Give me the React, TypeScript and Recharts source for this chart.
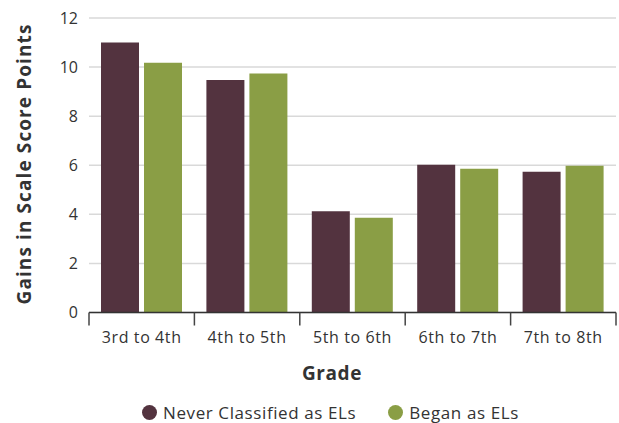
import React from "react";
import { BarChart, Bar, XAxis, YAxis, CartesianGrid, Legend, Label } from "recharts";

const grades = ["3rd to 4th", "4th to 5th", "5th to 6th", "6th to 7th", "7th to 8th"];
const neverEL = [11.0, 9.47, 4.13, 6.02, 5.74];
const beganEL = [10.18, 9.74, 3.86, 5.86, 5.98];
const yTicks = [0, 2, 4, 6, 8, 10, 12];

const MAROON = "#53333f";
const GREEN = "#8a9e45";
const FONT = "'Open Sans', sans-serif";

const W = 619;
const H = 423;
const PLOT_LEFT = 89;
const PLOT_RIGHT = 3;
const BAND = (W - PLOT_LEFT - PLOT_RIGHT) / grades.length;

const data = grades.map((g, i) => ({ grade: g, never: neverEL[i], began: beganEL[i] }));

function GradeTick(props: any) {
  const { x, y, payload, index } = props;
  const last = index === grades.length - 1;
  return (
    <g>
      <line x1={x - BAND / 2} x2={x - BAND / 2} y1={y} y2={y + 13} stroke="#444" strokeWidth={1.5} />
      {last && <line x1={x + BAND / 2} x2={x + BAND / 2} y1={y} y2={y + 13} stroke="#444" strokeWidth={1.5} />}
      <text x={x} y={y + 30} textAnchor="middle" fontSize={16} letterSpacing={0.6} fill="#333" fontFamily={FONT}>
        {payload.value}
      </text>
    </g>
  );
}

function LegendContent() {
  const items = [
    { name: "Never Classified as ELs", color: MAROON },
    { name: "Began as ELs", color: GREEN },
  ];
  return (
    <div style={{ display: "flex", paddingLeft: 142, fontFamily: FONT, fontSize: 17, letterSpacing: 0.6, color: "#333" }}>
      {items.map((it, i) => (
        <div key={it.name} style={{ display: "flex", alignItems: "center", marginRight: i === 0 ? 32 : 0 }}>
          <span style={{ width: 15, height: 15, borderRadius: "50%", background: it.color, marginRight: 6, display: "inline-block" }} />
          <span>{it.name}</span>
        </div>
      ))}
    </div>
  );
}

export default function App() {
  return (
    <div style={{ position: "absolute", left: 0, top: 0, background: "#fff" }}>
      <BarChart
        width={W}
        height={H}
        data={data}
        margin={{ top: 18, right: PLOT_RIGHT, bottom: 0, left: 0 }}
        barGap={5}
        barCategoryGap={12}
      >
        <CartesianGrid vertical={false} stroke="#d9d9d9" strokeWidth={1.5} />
        <XAxis
          dataKey="grade"
          height={88.5}
          tickLine={false}
          tickSize={0}
          tickMargin={0}
          axisLine={{ stroke: "#333", strokeWidth: 1.5 }}
          tick={<GradeTick />}
          interval={0}
        >
          <Label
            content={() => (
              <text x={332} y={380} textAnchor="middle" fontSize={19} letterSpacing={0.6} fontWeight="bold" fill="#333" fontFamily={FONT}>
                Grade
              </text>
            )}
          />
        </XAxis>
        <YAxis
          width={PLOT_LEFT}
          domain={[0, 12]}
          ticks={yTicks}
          axisLine={false}
          tickLine={false}
          tickSize={0}
          tickMargin={11}
          tick={{ fontSize: 16, fill: "#333", fontFamily: FONT }}
        >
          <Label
            content={() => (
              <text
                x={31}
                y={164}
                transform="rotate(-90 31 164)"
                textAnchor="middle"
                fontSize={19}
                letterSpacing={1.1}
                fontWeight="bold"
                fill="#333"
                fontFamily={FONT}
              >
                Gains in Scale Score Points
              </text>
            )}
          />
        </YAxis>
        <Legend verticalAlign="bottom" height={22} content={<LegendContent />} wrapperStyle={{ left: 0, width: W }} />
        <Bar dataKey="never" name="Never Classified as ELs" fill={MAROON} isAnimationActive={false} />
        <Bar dataKey="began" name="Began as ELs" fill={GREEN} isAnimationActive={false} />
      </BarChart>
    </div>
  );
}
